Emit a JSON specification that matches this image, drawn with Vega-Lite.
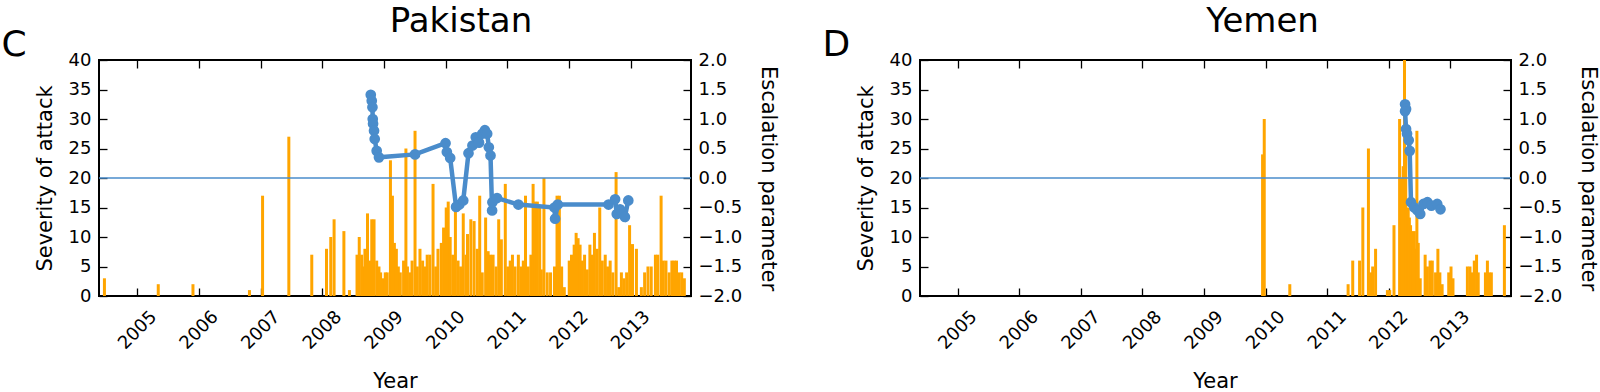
{
  "$schema": "https://vega.github.io/schema/vega-lite/v6.json",
  "padding": {"left": 0, "top": 4, "right": 0, "bottom": 0},
  "spacing": 229,
  "bounds": "flush",
  "config": {
    "font": "DejaVu Sans",
    "view": {"stroke": "black", "strokeWidth": 2},
    "axis": {"grid": false, "domain": false, "tickColor": "black", "tickSize": -8, "tickWidth": 1.3, "labelFontSize": 18, "labelColor": "black", "titleFontSize": 21, "titleFontWeight": "normal", "titleColor": "black", "labelOverlap": false, "labelFlush": false}
  },
  "datasets": {
    "pakBars": [
      {"t":2004.467,"s":3},{"t":2005.34,"s":2},{"t":2005.903,"s":2},{"t":2006.819,"s":1},{"t":2007.032,"s":17},{"t":2007.458,"s":27},{"t":2007.83,"s":7},{"t":2008.069,"s":8},{"t":2008.138,"s":10},{"t":2008.192,"s":13},{"t":2008.351,"s":11},{"t":2008.441,"s":1},{"t":2008.564,"s":7},{"t":2008.6,"s":10},{"t":2008.639,"s":7},{"t":2008.671,"s":5},{"t":2008.692,"s":8},{"t":2008.734,"s":14},{"t":2008.766,"s":6},{"t":2008.803,"s":13},{"t":2008.84,"s":13},{"t":2008.883,"s":6},{"t":2008.92,"s":5},{"t":2008.947,"s":4},{"t":2008.99,"s":3},{"t":2009.022,"s":4},{"t":2009.054,"s":4},{"t":2009.106,"s":23},{"t":2009.138,"s":17},{"t":2009.17,"s":9},{"t":2009.202,"s":8},{"t":2009.234,"s":5},{"t":2009.266,"s":4},{"t":2009.319,"s":6},{"t":2009.357,"s":25},{"t":2009.382,"s":5},{"t":2009.425,"s":4},{"t":2009.457,"s":6},{"t":2009.505,"s":28},{"t":2009.542,"s":5},{"t":2009.585,"s":8},{"t":2009.628,"s":6},{"t":2009.665,"s":5},{"t":2009.702,"s":7},{"t":2009.745,"s":7},{"t":2009.797,"s":19},{"t":2009.84,"s":5},{"t":2009.877,"s":8},{"t":2009.931,"s":9},{"t":2009.968,"s":11.6},{"t":2010.011,"s":15},{"t":2010.043,"s":16},{"t":2010.075,"s":10},{"t":2010.117,"s":7},{"t":2010.16,"s":14.5},{"t":2010.203,"s":6},{"t":2010.244,"s":5},{"t":2010.287,"s":14},{"t":2010.33,"s":7},{"t":2010.356,"s":10.5},{"t":2010.41,"s":13},{"t":2010.463,"s":12.7},{"t":2010.515,"s":8},{"t":2010.554,"s":17},{"t":2010.595,"s":4},{"t":2010.65,"s":13.3},{"t":2010.691,"s":7.6},{"t":2010.729,"s":7},{"t":2010.771,"s":7},{"t":2010.819,"s":5},{"t":2010.862,"s":13},{"t":2010.905,"s":9.6},{"t":2010.969,"s":19},{"t":2011.01,"s":5},{"t":2011.049,"s":6},{"t":2011.085,"s":7},{"t":2011.128,"s":5},{"t":2011.181,"s":7},{"t":2011.224,"s":5},{"t":2011.261,"s":6},{"t":2011.297,"s":17},{"t":2011.341,"s":5},{"t":2011.384,"s":7},{"t":2011.42,"s":19},{"t":2011.448,"s":16},{"t":2011.489,"s":16},{"t":2011.527,"s":15},{"t":2011.553,"s":4.5},{"t":2011.596,"s":20},{"t":2011.649,"s":4},{"t":2011.703,"s":4},{"t":2011.767,"s":5},{"t":2011.808,"s":17},{"t":2011.846,"s":17},{"t":2011.883,"s":5},{"t":2011.926,"s":1.5},{"t":2012.006,"s":6},{"t":2012.043,"s":7},{"t":2012.086,"s":8.7},{"t":2012.118,"s":10.7},{"t":2012.15,"s":9.8},{"t":2012.182,"s":8.7},{"t":2012.218,"s":6},{"t":2012.255,"s":7},{"t":2012.298,"s":4.5},{"t":2012.341,"s":8.7},{"t":2012.378,"s":7},{"t":2012.415,"s":10.7},{"t":2012.458,"s":8},{"t":2012.501,"s":15},{"t":2012.542,"s":6},{"t":2012.59,"s":7},{"t":2012.628,"s":5},{"t":2012.67,"s":6},{"t":2012.713,"s":4},{"t":2012.766,"s":21},{"t":2012.809,"s":1.5},{"t":2012.852,"s":4},{"t":2012.893,"s":3},{"t":2012.937,"s":4},{"t":2012.985,"s":12},{"t":2013.032,"s":8.8},{"t":2013.096,"s":8},{"t":2013.176,"s":1.5},{"t":2013.229,"s":4},{"t":2013.283,"s":5},{"t":2013.336,"s":5},{"t":2013.404,"s":7},{"t":2013.442,"s":7},{"t":2013.496,"s":17},{"t":2013.532,"s":6},{"t":2013.575,"s":6},{"t":2013.627,"s":4},{"t":2013.671,"s":6},{"t":2013.707,"s":6},{"t":2013.746,"s":6},{"t":2013.787,"s":4},{"t":2013.83,"s":4},{"t":2013.873,"s":3}
    ],
    "pakEsc": [
      {"i":1,"t":2008.787,"e":1.41},{"i":2,"t":2008.803,"e":1.31},{"i":3,"t":2008.814,"e":1.2},{"i":4,"t":2008.819,"e":1.0},{"i":5,"t":2008.824,"e":0.92},{"i":6,"t":2008.84,"e":0.8},{"i":7,"t":2008.851,"e":0.66},{"i":8,"t":2008.883,"e":0.46},{"i":9,"t":2008.92,"e":0.35},{"i":10,"t":2009.505,"e":0.4},{"i":11,"t":2010.0,"e":0.59},{"i":12,"t":2010.021,"e":0.44},{"i":13,"t":2010.075,"e":0.34},{"i":14,"t":2010.171,"e":-0.49},{"i":15,"t":2010.223,"e":-0.45},{"i":16,"t":2010.287,"e":-0.38},{"i":17,"t":2010.372,"e":0.42},{"i":18,"t":2010.436,"e":0.55},{"i":19,"t":2010.49,"e":0.69},{"i":20,"t":2010.543,"e":0.6},{"i":21,"t":2010.595,"e":0.75},{"i":22,"t":2010.638,"e":0.81},{"i":23,"t":2010.675,"e":0.75},{"i":24,"t":2010.702,"e":0.52},{"i":25,"t":2010.729,"e":0.38},{"i":26,"t":2010.755,"e":-0.55},{"i":27,"t":2010.76,"e":-0.41},{"i":28,"t":2010.835,"e":-0.34},{"i":29,"t":2011.181,"e":-0.45},{"i":30,"t":2011.767,"e":-0.5},{"i":31,"t":2011.777,"e":-0.69},{"i":32,"t":2011.82,"e":-0.45},{"i":33,"t":2012.644,"e":-0.45},{"i":34,"t":2012.75,"e":-0.36},{"i":35,"t":2012.777,"e":-0.61},{"i":36,"t":2012.83,"e":-0.53},{"i":37,"t":2012.909,"e":-0.66},{"i":38,"t":2012.964,"e":-0.38}
    ],
    "yemBars": [
      {"t":2009.952,"s":24},{"t":2009.979,"s":30},{"t":2010.394,"s":2},{"t":2011.341,"s":2},{"t":2011.416,"s":6},{"t":2011.527,"s":6},{"t":2011.58,"s":15},{"t":2011.671,"s":25},{"t":2011.708,"s":4},{"t":2011.74,"s":5},{"t":2011.787,"s":8},{"t":2011.979,"s":1},{"t":2012.017,"s":1},{"t":2012.086,"s":12},{"t":2012.177,"s":30},{"t":2012.196,"s":20},{"t":2012.214,"s":18.4},{"t":2012.235,"s":22},{"t":2012.257,"s":40},{"t":2012.277,"s":25},{"t":2012.298,"s":14},{"t":2012.317,"s":15},{"t":2012.336,"s":13.3},{"t":2012.355,"s":12},{"t":2012.373,"s":11},{"t":2012.395,"s":9},{"t":2012.416,"s":11},{"t":2012.437,"s":8},{"t":2012.458,"s":28},{"t":2012.48,"s":9},{"t":2012.512,"s":3},{"t":2012.592,"s":7},{"t":2012.629,"s":5},{"t":2012.672,"s":6},{"t":2012.708,"s":6},{"t":2012.761,"s":4},{"t":2012.799,"s":8},{"t":2012.831,"s":4},{"t":2012.868,"s":2},{"t":2012.975,"s":4},{"t":2013.012,"s":5},{"t":2013.044,"s":3},{"t":2013.278,"s":5},{"t":2013.32,"s":5},{"t":2013.359,"s":4},{"t":2013.39,"s":6},{"t":2013.427,"s":7},{"t":2013.454,"s":4},{"t":2013.571,"s":4},{"t":2013.603,"s":6},{"t":2013.63,"s":4},{"t":2013.667,"s":4},{"t":2013.879,"s":12}
    ],
    "yemEsc": [
      {"i":1,"t":2012.266,"e":1.25},{"i":2,"t":2012.282,"e":1.17},{"i":3,"t":2012.266,"e":1.13},{"i":4,"t":2012.282,"e":0.83},{"i":5,"t":2012.298,"e":0.75},{"i":6,"t":2012.325,"e":0.64},{"i":7,"t":2012.341,"e":0.46},{"i":8,"t":2012.362,"e":-0.41},{"i":9,"t":2012.416,"e":-0.5},{"i":10,"t":2012.469,"e":-0.55},{"i":11,"t":2012.512,"e":-0.61},{"i":12,"t":2012.565,"e":-0.44},{"i":13,"t":2012.629,"e":-0.41},{"i":14,"t":2012.693,"e":-0.47},{"i":15,"t":2012.788,"e":-0.44},{"i":16,"t":2012.841,"e":-0.53}
    ],
    "zero": [{"e": 0}]
  },
  "hconcat": [
    {
      "width": 592, "height": 236,
      "title": {"text": "Pakistan", "fontSize": 34, "fontWeight": "normal", "color": "black", "anchor": "middle", "frame": "group", "dx": 66, "baseline": "alphabetic", "offset": -40},
      "resolve": {"scale": {"y": "independent"}, "axis": {"x": "independent"}},
      "layer": [
        {
          "data": {"name": "pakBars"},
          "mark": {"type": "bar", "color": "#ffa500", "size": 3, "orient": "vertical", "clip": true},
          "encoding": {
            "x": {"field": "t", "type": "quantitative", "scale": {"domain": [2004.46, 2013.9], "nice": false, "zero": false},
                  "axis": {"orient": "bottom", "values": [2005,2006,2007,2008,2009,2010,2011,2012,2013], "format": "d", "labelAngle": -45, "labelAlign": "center", "labelBaseline": "middle", "labelPadding": 42, "title": "Year", "titleX": 296, "titleY": 91, "titleAlign": "center", "titleBaseline": "alphabetic"}},
            "y": {"field": "s", "type": "quantitative", "scale": {"domain": [0, 40], "nice": false},
                  "axis": {"values": [0,5,10,15,20,25,30,35,40], "labelPadding": 16, "title": "Severity of attack", "titleX": -48, "titleY": 118, "titleAngle": -90, "titleAlign": "center", "titleBaseline": "alphabetic"}}
          }
        },
        {
          "data": {"name": "zero"},
          "mark": {"type": "rule", "color": "#4a8ccb", "strokeWidth": 1.5},
          "encoding": {"y": {"field": "e", "type": "quantitative", "scale": {"domain": [-2, 2], "nice": false}, "axis": null}}
        },
        {
          "data": {"name": "pakEsc"},
          "mark": {"type": "line", "color": "#4a8ccb", "strokeWidth": 4.5},
          "encoding": {
            "x": {"field": "t", "type": "quantitative", "axis": {"orient": "top", "values": [2005,2006,2007,2008,2009,2010,2011,2012,2013], "labels": false, "title": "C", "titleFontSize": 36, "titleX": -98, "titleY": -5, "titleAlign": "left", "titleBaseline": "alphabetic", "titleAngle": 0}},
            "y": {"field": "e", "type": "quantitative", "scale": {"domain": [-2, 2], "nice": false},
                  "axis": {"orient": "right", "values": [-2,-1.5,-1,-0.5,0,0.5,1,1.5,2], "labelExpr": "replace(format(datum.value, '.1f'), '-', '\u2212')", "labelPadding": 15, "title": "Escalation parameter", "titleX": 70, "titleY": 118, "titleAngle": 90, "titleAlign": "center", "titleBaseline": "alphabetic"}},
            "order": {"field": "i", "type": "quantitative"}
          }
        },
        {
          "data": {"name": "pakEsc"},
          "mark": {"type": "circle", "color": "#4a8ccb", "size": 115, "opacity": 1},
          "encoding": {
            "x": {"field": "t", "type": "quantitative", "axis": null},
            "y": {"field": "e", "type": "quantitative", "scale": {"domain": [-2, 2], "nice": false}, "axis": null}
          }
        }
      ]
    },
    {
      "width": 591, "height": 236,
      "title": {"text": "Yemen", "fontSize": 34, "fontWeight": "normal", "color": "black", "anchor": "middle", "frame": "group", "dx": 47, "baseline": "alphabetic", "offset": -40},
      "resolve": {"scale": {"y": "independent"}, "axis": {"x": "independent"}},
      "layer": [
        {
          "data": {"name": "yemBars"},
          "mark": {"type": "bar", "color": "#ffa500", "size": 3, "orient": "vertical", "clip": true},
          "encoding": {
            "x": {"field": "t", "type": "quantitative", "scale": {"domain": [2004.47, 2013.905], "nice": false, "zero": false},
                  "axis": {"orient": "bottom", "values": [2005,2006,2007,2008,2009,2010,2011,2012,2013], "format": "d", "labelAngle": -45, "labelAlign": "center", "labelBaseline": "middle", "labelPadding": 42, "title": "Year", "titleX": 295, "titleY": 91, "titleAlign": "center", "titleBaseline": "alphabetic"}},
            "y": {"field": "s", "type": "quantitative", "scale": {"domain": [0, 40], "nice": false},
                  "axis": {"values": [0,5,10,15,20,25,30,35,40], "labelPadding": 16, "title": "Severity of attack", "titleX": -48, "titleY": 118, "titleAngle": -90, "titleAlign": "center", "titleBaseline": "alphabetic"}}
          }
        },
        {
          "data": {"name": "zero"},
          "mark": {"type": "rule", "color": "#4a8ccb", "strokeWidth": 1.5},
          "encoding": {"y": {"field": "e", "type": "quantitative", "scale": {"domain": [-2, 2], "nice": false}, "axis": null}}
        },
        {
          "data": {"name": "yemEsc"},
          "mark": {"type": "line", "color": "#4a8ccb", "strokeWidth": 4.5},
          "encoding": {
            "x": {"field": "t", "type": "quantitative", "axis": {"orient": "top", "values": [2005,2006,2007,2008,2009,2010,2011,2012,2013], "labels": false, "title": "D", "titleFontSize": 36, "titleX": -98, "titleY": -5, "titleAlign": "left", "titleBaseline": "alphabetic", "titleAngle": 0}},
            "y": {"field": "e", "type": "quantitative", "scale": {"domain": [-2, 2], "nice": false},
                  "axis": {"orient": "right", "values": [-2,-1.5,-1,-0.5,0,0.5,1,1.5,2], "labelExpr": "replace(format(datum.value, '.1f'), '-', '\u2212')", "labelPadding": 15, "title": "Escalation parameter", "titleX": 70, "titleY": 118, "titleAngle": 90, "titleAlign": "center", "titleBaseline": "alphabetic"}},
            "order": {"field": "i", "type": "quantitative"}
          }
        },
        {
          "data": {"name": "yemEsc"},
          "mark": {"type": "circle", "color": "#4a8ccb", "size": 115, "opacity": 1},
          "encoding": {
            "x": {"field": "t", "type": "quantitative", "axis": null},
            "y": {"field": "e", "type": "quantitative", "scale": {"domain": [-2, 2], "nice": false}, "axis": null}
          }
        }
      ]
    }
  ]
}
